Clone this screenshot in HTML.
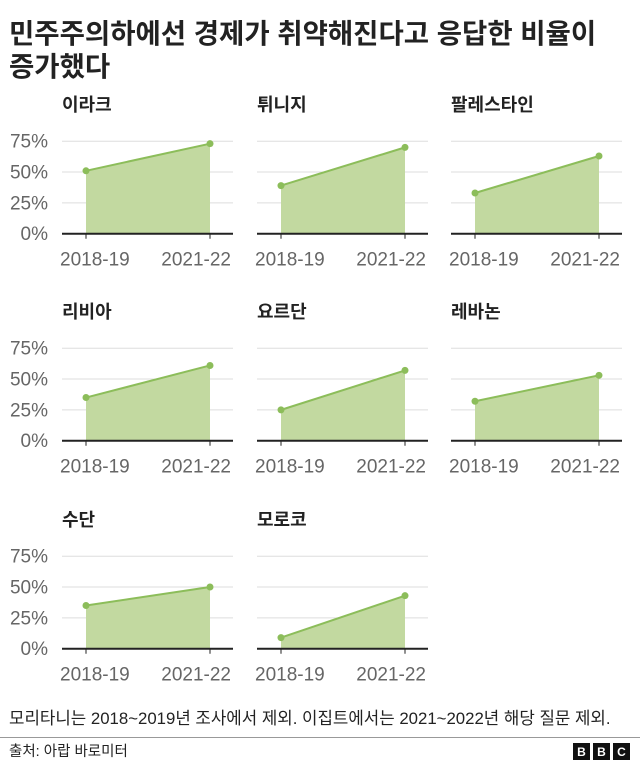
<!DOCTYPE html>
<html><head><meta charset="utf-8"><style>
body{margin:0;background:#fff;width:640px;height:765px;overflow:hidden;font-family:"Liberation Sans","Noto Sans CJK KR",sans-serif;}
svg text{font-family:"Liberation Sans","Noto Sans CJK KR",sans-serif;}
</style></head><body>
<svg id="c" width="640" height="765">
<text x="9" y="43" font-size="27.5" font-weight="bold" fill="#222">민주주의하에선 경제가 취약해진다고 응답한 비율이</text>
<text x="9" y="76" font-size="27.5" font-weight="bold" fill="#222">증가했다</text>
<text x="9" y="724" font-size="16.8" fill="#222">모리타니는 2018~2019년 조사에서 제외. 이집트에서는 2021~2022년 해당 질문 제외.</text>
<line x1="0" y1="737.5" x2="640" y2="737.5" stroke="#999" stroke-width="1"/>
<text x="9" y="756" font-size="14.5" fill="#222">출처: 아랍 바로미터</text>
<g>
<rect x="573" y="743" width="17" height="17" fill="#111"/><text x="581.5" y="756" font-size="12" font-weight="bold" fill="#fff" text-anchor="middle">B</text>
<rect x="593" y="743" width="17" height="17" fill="#111"/><text x="601.5" y="756" font-size="12" font-weight="bold" fill="#fff" text-anchor="middle">B</text>
<rect x="613" y="743" width="17" height="17" fill="#111"/><text x="621.5" y="756" font-size="12" font-weight="bold" fill="#fff" text-anchor="middle">C</text>
</g>
</svg>
<script>
const countries=["이라크","튀니지","팔레스타인","리비아","요르단","레바논","수단","모로코"];
const v2018=[51,39,33,35,25,32,35,9];
const v2021=[73,70,63,61,57,53,50,43];
const years=["2018-19","2021-22"];
const ticks=[0,25,50,75];
const svg=document.getElementById('c');
const NS='http://www.w3.org/2000/svg';
function mk(tag,attrs,parent){const e=document.createElementNS(NS,tag);for(const k in attrs)e.setAttribute(k,attrs[k]);parent.appendChild(e);return e;}
const colX=[0,195,389], rowY=[0,207,415];
countries.forEach((name,i)=>{
  const ox=colX[i%3], oy=rowY[Math.floor(i/3)];
  const g=mk('g',{},svg);
  
  
  const y0=233.7+oy, yScale=v=>y0-v/75*92.5;
  const xs=[86+ox,210+ox];
  const t=mk('text',{x:62+ox,y:111+oy,'font-size':18,'font-weight':'bold',fill:'#222'},g);t.textContent=name;
  
  
  ticks.forEach(tv=>{
    const yy=yScale(tv);
    if(tv>0){const l=mk('line',{x1:62+ox,x2:233+ox,y1:yy,y2:yy,stroke:'#ddd','stroke-width':1},g);
      
      }
    if(ox===0){const tt=mk('text',{x:48,y:yy+6.5,'font-size':19,fill:'#666','text-anchor':'end'},g);tt.textContent=tv+'%';
      
      }
  });
  const vals=[v2018[i],v2021[i]];
  const ys=vals.map(yScale);
  const area=mk('path',{d:`M${xs[0]},${y0}L${xs[0]},${ys[0]}L${xs[1]},${ys[1]}L${xs[1]},${y0}Z`,fill:'#c2d9a0'},g);
  
  
  const ln=mk('line',{x1:xs[0],y1:ys[0],x2:xs[1],y2:ys[1],stroke:'#8cbd5a','stroke-width':2},g);
  
  
  xs.forEach((x,j)=>{
    const c=mk('circle',{cx:x,cy:ys[j],r:3.5,fill:'#8cbd5a'},g);
    
    
    const tk=mk('line',{x1:x,x2:x,y1:y0,y2:y0+5,stroke:'#222','stroke-width':1},g);
    
    
    const lx=j===0?60+ox:231+ox;
    const xl=mk('text',{x:lx,y:y0+32,'font-size':19,fill:'#666','text-anchor':j===0?'start':'end'},g);xl.textContent=years[j];
    
    
  });
  const ax=mk('line',{x1:62+ox,x2:233+ox,y1:y0,y2:y0,stroke:'#222','stroke-width':2},g);
  
  
});
</script>
</body></html>
